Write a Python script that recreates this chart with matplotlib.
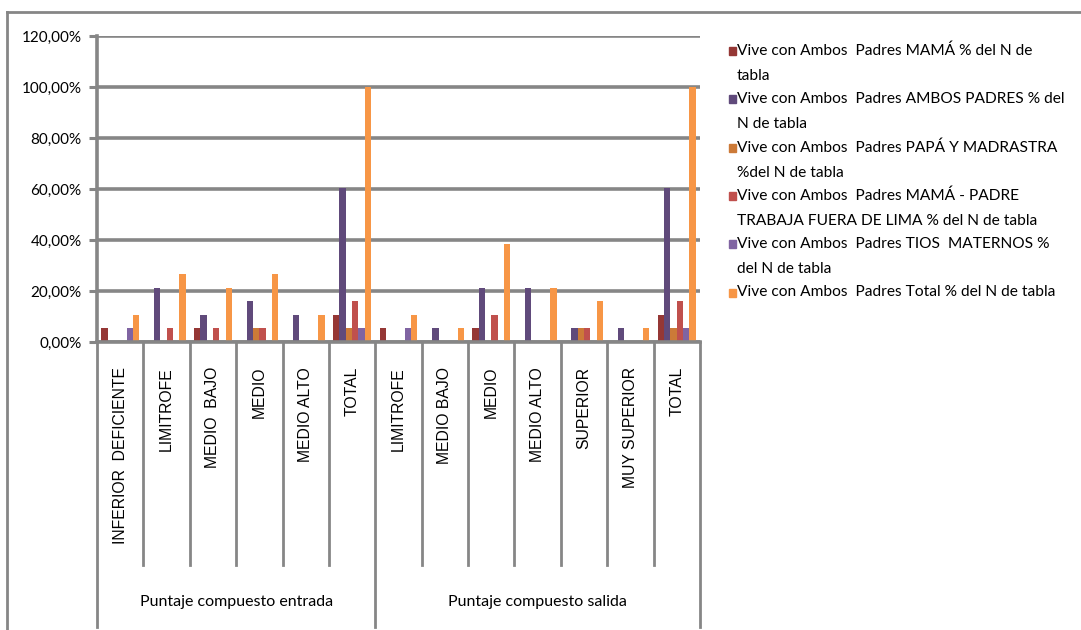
import numpy as np
import matplotlib
matplotlib.use("Agg")
import matplotlib.pyplot as plt
from matplotlib.patches import Rectangle
from matplotlib.transforms import blended_transform_factory

# --------------------
# Data
# --------------------
categories = ["INFERIOR  DEFICIENTE", "LIMITROFE", "MEDIO  BAJO", "MEDIO", "MEDIO ALTO", "TOTAL",
              "LIMITROFE", "MEDIO BAJO", "MEDIO", "MEDIO ALTO", "SUPERIOR", "MUY SUPERIOR", "TOTAL"]
groups = ["Puntaje compuesto entrada", "Puntaje compuesto salida"]
group_sizes = [6, 7]

mama = [5.3, 0, 5.3, 0, 0, 10.5, 5.3, 0, 5.3, 0, 0, 0, 10.5]
ambos = [0, 21.1, 10.5, 16.0, 10.5, 60.5, 0, 5.3, 21.1, 21.1, 5.3, 5.3, 60.5]
papa_madrastra = [0, 0, 0, 5.3, 0, 5.3, 0, 0, 0, 0, 5.3, 0, 5.3]
mama_padre = [0, 5.3, 5.3, 5.3, 0, 16.0, 0, 0, 10.5, 0, 5.3, 0, 16.0]
tios = [5.3, 0, 0, 0, 0, 5.3, 5.3, 0, 0, 0, 0, 0, 5.3]
total = [10.5, 26.8, 21.1, 26.8, 10.5, 100, 10.5, 5.3, 38.5, 21.1, 16.0, 5.3, 100]

series = [mama, ambos, papa_madrastra, mama_padre, tios, total]
series_labels = [
    ["Vive con Ambos  Padres MAMÁ % del N de", "tabla"],
    ["Vive con Ambos  Padres AMBOS PADRES % del", "N de tabla"],
    ["Vive con Ambos  Padres PAPÁ Y MADRASTRA", "%del N de tabla"],
    ["Vive con Ambos  Padres MAMÁ - PADRE", "TRABAJA FUERA DE LIMA % del N de tabla"],
    ["Vive con Ambos  Padres TIOS  MATERNOS %", "del N de tabla"],
    ["Vive con Ambos  Padres Total % del N de tabla"],
]
colors = ["#953735", "#604A7B", "#CC7A38", "#C0504D", "#8064A2", "#F79646"]

GRAY = "#868686"
W, H = 1081, 630

fig = plt.figure(figsize=(W / 100, H / 100), dpi=100)
ax = fig.add_axes([97 / W, 1 - 342 / H, (700 - 97) / W, (342 - 36) / H])

x = np.arange(len(categories))
bw = 0.136
for i, (vals, col) in enumerate(zip(series, colors)):
    ax.bar(x + (i - 2.5) * bw, vals, bw, color=col, linewidth=0, zorder=3)

ax.set_xlim(-0.5, len(categories) - 0.5)
ax.set_ylim(0, 120)
ax.set_yticks(np.arange(0, 121, 20))
ax.set_yticklabels([f"{v},00%" for v in range(0, 121, 20)], fontsize=11, family="Lato")
ax.yaxis.grid(True, color=GRAY, linewidth=2.6, zorder=1)
ax.tick_params(axis="y", length=5.5, width=2.2, color=GRAY, pad=5.5)
ax.set_xticks([])
for s in ["top", "right"]:
    ax.spines[s].set_visible(False)
for s in ["left", "bottom"]:
    ax.spines[s].set_color(GRAY)
    ax.spines[s].set_linewidth(2.6)
    ax.spines[s].set_zorder(4)

# category labels, rotated
trans = blended_transform_factory(ax.transData, ax.transAxes)
for xi, lab in zip(x, categories):
    ax.text(xi, -(367 - 342) / 306, lab, rotation=90, ha="center", va="top",
            fontsize=11.3, family="Liberation Sans", transform=trans)

# category separators and group separators below the axis
bounds = [0]
for n in group_sizes:
    bounds.append(bounds[-1] + n)
for b in range(len(categories) + 1):
    edge = b - 0.5
    if b in bounds:
        y_end = -(627 - 342) / 306
    else:
        y_end = -(565 - 342) / 306
    ax.plot([edge, edge], [0, y_end], color=GRAY, linewidth=2.0,
            transform=trans, clip_on=False, zorder=2)

for g, (lo, hi) in enumerate(zip(bounds[:-1], bounds[1:])):
    ax.text((lo + hi - 1) / 2, -(602 - 342) / 306, groups[g], ha="center", va="center",
            fontsize=11.5, family="Lato", transform=trans)

# legend drawn by hand to follow the wrapped layout
base_y = 55
for lab_lines, col in zip(series_labels, colors):
    fig.patches.append(Rectangle((729 / W, 1 - (base_y) / H), 7 / W, 8 / H,
                                 transform=fig.transFigure, color=col))
    for k, t in enumerate(lab_lines):
        fig.text(737 / W, 1 - (base_y + k * 25) / H, t, ha="left", va="baseline",
                 fontsize=11.2, family="Lato")
    base_y += 48.3

# chart area frame (left and top edges visible)
fig.add_artist(plt.Line2D([6.5 / W, 6.5 / W], [0, 1 - 12 / H], color=GRAY, linewidth=2,
                          transform=fig.transFigure))
fig.add_artist(plt.Line2D([6.5 / W, 1], [1 - 12 / H, 1 - 12 / H], color=GRAY, linewidth=2,
                          transform=fig.transFigure))

fig.savefig("out.png", dpi=100)
